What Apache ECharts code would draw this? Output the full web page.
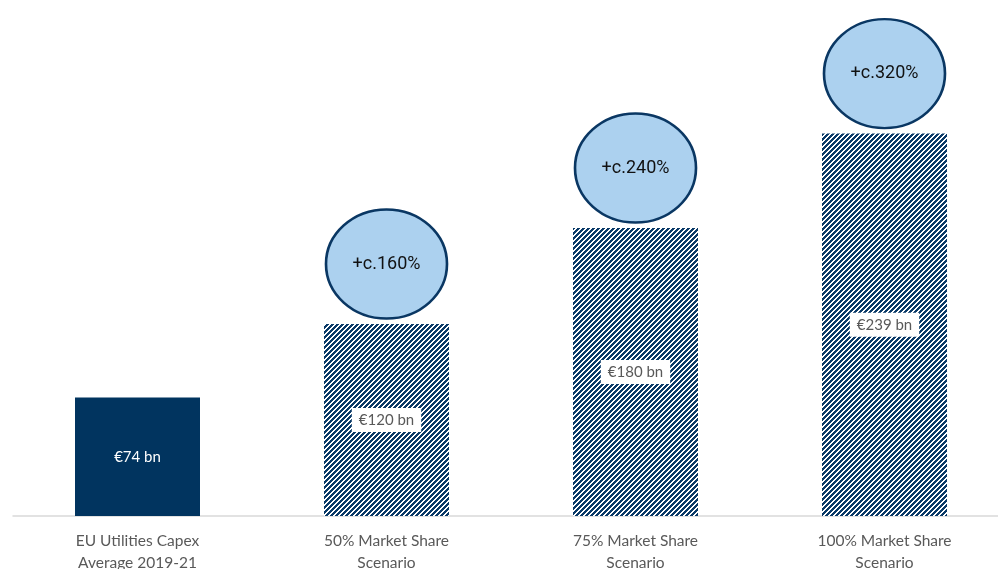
<!DOCTYPE html>
<html><head><meta charset="utf-8">
<script src="https://cdn.jsdelivr.net/npm/echarts@6/dist/echarts.min.js"></script>
<style>html,body{margin:0;padding:0;background:#fff}#c{width:998px;height:569px}</style>
</head><body><div id="c"></div>
<script>
const categories = ['EU Utilities Capex\nAverage 2019-21', '50% Market Share\nScenario', '75% Market Share\nScenario', '100% Market Share\nScenario'];
const values = [74, 120, 180, 239];
const valueLabels = ['€74 bn', '€120 bn', '€180 bn', '€239 bn'];
const growthLabels = ['', '+c.160%', '+c.240%', '+c.320%'];

const navy = '#01345f';
// hatch pattern tile
const T = 5;
const tile = document.createElement('canvas');
tile.width = T; tile.height = T;
const tctx = tile.getContext('2d');
tctx.fillStyle = '#ffffff'; tctx.fillRect(0,0,T,T);
tctx.fillStyle = '#0a3a68';
for (let x=0;x<T;x++) for (let y=0;y<T;y++) if ((x+y)%T < 3) tctx.fillRect(x,y,1,1);

const barData = values.map((v,i) => ({
  value: v,
  itemStyle: i === 0 ? {color: navy} : {color: {image: tile, repeat: 'repeat'}},
  label: i === 0 ? {color: '#ffffff', backgroundColor: 'transparent'} : {}
}));
const circleData = values.map((v,i) => i === 0 ? null : {value: [i, v], name: growthLabels[i]}).filter(d=>d);

const chart = echarts.init(document.getElementById('c'));
chart.setOption({
  animation: false,
  grid: {left: 13, width: 996, top: 0, bottom: 53, containLabel: false, outerBoundsMode: 'none'},
  xAxis: {
    type: 'category', data: categories,
    axisLine: {lineStyle: {color: '#d9d9d9', width: 1.5}},
    axisTick: {show: false},
    axisLabel: {color: '#595959', fontFamily: 'Lato', fontSize: 15.5, lineHeight: 22, margin: 14}
  },
  yAxis: {type: 'value', min: 0, max: 322.5, show: false, splitLine: {show: false}},
  series: [
    {
      type: 'bar', data: barData, barWidth: 125,
      label: {
        show: true, position: 'inside',
        formatter: p => valueLabels[p.dataIndex],
        color: '#595959', backgroundColor: '#ffffff',
        padding: [5, 7, 4, 7], fontFamily: 'Lato', fontSize: 15
      }
    },
    {
      type: 'scatter', data: circleData,
      symbol: 'circle', symbolSize: [121, 109], symbolOffset: [0, -60],
      itemStyle: {color: '#acd1ef', borderColor: '#0a3763', borderWidth: 2.5, opacity: 1},
      label: {
        show: true, position: 'inside',
        formatter: p => p.name,
        color: '#111111', fontFamily: 'Roboto', fontSize: 18
      },
      z: 5
    }
  ]
});
</script></body></html>
